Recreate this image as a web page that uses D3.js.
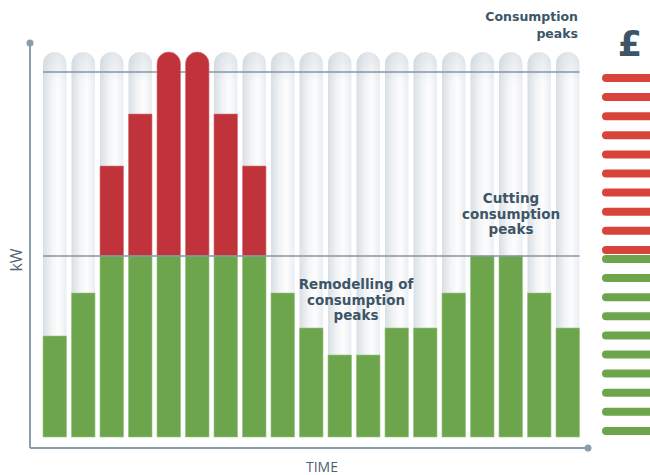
<!DOCTYPE html>
<html>
<head>
<meta charset="utf-8">
<script src="https://cdn.jsdelivr.net/npm/d3@7/dist/d3.min.js"></script>
<style>
  html, body { margin: 0; padding: 0; background: #ffffff; }
  svg { display: block; }
</style>
</head>
<body>
<script>
// ---- data ----
const periods = ["1","2","3","4","5","6","7","8","9","10","11","12","13","14","15","16","17","18","19"];
const baseLoad = [101,144,181,181,181,181,181,181,144,109,82,82,109,109,144,181,181,144,109]; // green (kW, arbitrary units)
const peakLoad = [0,0,90,142,204,204,142,90,0,0,0,0,0,0,0,0,0,0,0];                           // red above threshold
const thresholdLevel = 181;
const capLevel = 365;
const maxLevel = 385;
const tariffBands = ["high","high","high","high","high","high","high","high","high","high",
                     "low","low","low","low","low","low","low","low","low","low"];
const labelTop = ["Consumption", "peaks"];
const labelCutting = ["Cutting", "consumption", "peaks"];
const labelRemodel = ["Remodelling of", "consumption", "peaks"];

// ---- layout ----
const W = 650, H = 475;
const plotLeft = 43, plotRight = 579.5, plotBottom = 437, plotTop = 52;
const textColor = "#3d5566";
const axisColor = "#8a9dab";
const red = "#c0333b", green = "#6ca54c";
const legendRed = "#d9443a";

const svg = d3.select("body").append("svg").attr("width", W).attr("height", H);
const defs = svg.append("defs");

const gH = defs.append("linearGradient").attr("id", "capH").attr("x1", 0).attr("x2", 1).attr("y1", 0).attr("y2", 0);
gH.append("stop").attr("offset", "0%").attr("stop-color", "#d8dfe4");
gH.append("stop").attr("offset", "35%").attr("stop-color", "#f1f3f5");
gH.append("stop").attr("offset", "65%").attr("stop-color", "#fdfdfe");
gH.append("stop").attr("offset", "100%").attr("stop-color", "#eaeef1");

const gV = defs.append("linearGradient").attr("id", "capV").attr("x1", 0).attr("x2", 0).attr("y1", 0).attr("y2", 1);
gV.append("stop").attr("offset", "0%").attr("stop-color", "#c9d3da").attr("stop-opacity", 0.5);
gV.append("stop").attr("offset", "8%").attr("stop-color", "#c9d3da").attr("stop-opacity", 0.0);
gV.append("stop").attr("offset", "100%").attr("stop-color", "#c9d3da").attr("stop-opacity", 0.0);

const x = d3.scaleBand().domain(periods).range([plotLeft, plotRight]).paddingInner(0.175).paddingOuter(0);
const y = d3.scaleLinear().domain([0, maxLevel]).range([plotBottom, plotTop]);

function capsule(x0, w, top, bottom) {
  const r = w / 2;
  return `M${x0},${bottom}V${top + r}A${r},${r} 0 0 1 ${x0 + w},${top + r}V${bottom}Z`;
}

// background capsules
const bw = x.bandwidth();
svg.append("g").selectAll("path").data(periods).join("path")
  .attr("d", d => capsule(x(d), bw, y(maxLevel), y(0)))
  .attr("fill", "url(#capH)");
svg.append("g").selectAll("path").data(periods).join("path")
  .attr("d", d => capsule(x(d), bw, y(maxLevel), y(0)))
  .attr("fill", "url(#capV)");

// cap line
svg.append("line")
  .attr("x1", plotLeft).attr("x2", plotRight)
  .attr("y1", y(capLevel)).attr("y2", y(capLevel))
  .attr("stroke", "#8396a4").attr("stroke-width", 1.5);

// red bars (peaks)
svg.append("g").selectAll("path").data(periods.map((p, i) => ({p, base: baseLoad[i], peak: peakLoad[i]})).filter(d => d.peak > 0))
  .join("path")
  .attr("d", d => {
    const top = d.base + d.peak;
    if (top >= maxLevel) return capsule(x(d.p), bw, y(top), y(d.base));
    return `M${x(d.p)},${y(d.base)}V${y(top)}H${x(d.p) + bw}V${y(d.base)}Z`;
  })
  .attr("fill", red)
  .attr("stroke", "#d77a7e").attr("stroke-width", 0.6);

// green bars
svg.append("g").selectAll("rect").data(periods.map((p, i) => ({p, v: baseLoad[i]})))
  .join("rect")
  .attr("x", d => x(d.p)).attr("width", bw)
  .attr("y", d => y(d.v)).attr("height", d => y(0) - y(d.v))
  .attr("fill", green)
  .attr("stroke", "#9cc584").attr("stroke-width", 0.6);

// threshold line
svg.append("line")
  .attr("x1", plotLeft).attr("x2", plotRight)
  .attr("y1", y(thresholdLevel)).attr("y2", y(thresholdLevel))
  .attr("stroke", "#8396a4").attr("stroke-width", 1.5);

// axes
const axisX0 = 30, axisY0 = 448;
svg.append("line").attr("x1", axisX0).attr("x2", axisX0).attr("y1", 43).attr("y2", axisY0)
  .attr("stroke", axisColor).attr("stroke-width", 2);
svg.append("line").attr("x1", axisX0).attr("x2", 588).attr("y1", axisY0).attr("y2", axisY0)
  .attr("stroke", axisColor).attr("stroke-width", 2);
svg.append("circle").attr("cx", axisX0).attr("cy", 43).attr("r", 3.5).attr("fill", axisColor);
svg.append("circle").attr("cx", 588).attr("cy", axisY0).attr("r", 3.5).attr("fill", axisColor);

svg.append("text").attr("x", 322).attr("y", 472).attr("text-anchor", "middle")
  .attr("font-family", "Open Sans, sans-serif").attr("font-size", 14).attr("fill", "#4d6272")
  .text("TIME");
svg.append("text").attr("transform", "translate(22,260) rotate(-90)").attr("text-anchor", "middle")
  .attr("font-family", "Open Sans, sans-serif").attr("font-size", 16).attr("fill", "#4d6272")
  .text("kW");

// legend stripes
const lyAdj = i => (i < 10 ? 78 + i * 19.1 : 259 + (i - 10) * 19.1);
svg.append("g").selectAll("rect").data(tariffBands.map((b, i) => ({b, i})))
  .join("rect")
  .attr("x", 602).attr("width", 60)
  .attr("y", d => lyAdj(d.i) - 4).attr("height", 8).attr("rx", 4)
  .attr("fill", d => d.b === "high" ? legendRed : green);

// labels
const boldFont = "DejaVu Sans, sans-serif";
function multiline(lines, cx, y0, lh, anchor, size) {
  const t = svg.append("text").attr("text-anchor", anchor)
    .attr("font-family", boldFont).attr("font-weight", "bold")
    .attr("font-size", size).attr("fill", textColor);
  lines.forEach((l, i) => t.append("tspan").attr("x", cx).attr("y", y0 + i * lh).text(l));
}
multiline(labelTop, 578, 21, 16.5, "end", 12.5);
multiline(labelCutting, 511, 203, 15.5, "middle", 13.5);
multiline(labelRemodel, 356, 289, 15.5, "middle", 13.5);

svg.append("text").attr("x", 630).attr("y", 56).attr("text-anchor", "middle")
  .attr("font-family", boldFont).attr("font-weight", "bold").attr("font-size", 35)
  .attr("fill", textColor).text("£");
</script>
</body>
</html>
